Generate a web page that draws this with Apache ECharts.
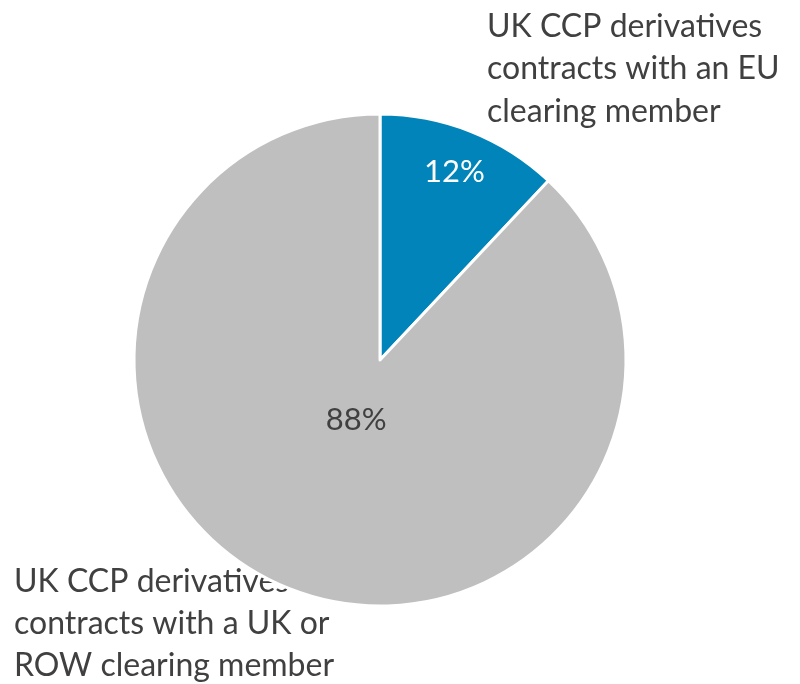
<!DOCTYPE html>
<html>
<head>
<meta charset="utf-8">
<style>
  html, body { margin: 0; padding: 0; background: #ffffff; }
  #chart { width: 800px; height: 684px; }
</style>
<script src="https://cdn.jsdelivr.net/npm/echarts@6/dist/echarts.min.js"></script>
</head>
<body>
<div id="chart"></div>
<script>
// Share of UK CCP derivatives contracts by clearing member location
const categories = [
  'UK CCP derivatives\ncontracts with an EU\nclearing member',
  'UK CCP derivatives\ncontracts with a UK or\nROW clearing member'
];
const shares = [12, 88];
const colors = ['#0084BA', '#BFBFBF'];
const valueLabelColors = ['#FFFFFF', '#404040'];

const FONT = 'Lato, "Open Sans", sans-serif';
const FONT_SIZE = 32;
const TEXT = '#404040';
const CENTER = [380, 360];
const R = 246;

const chart = echarts.init(document.getElementById('chart'), null, { renderer: 'canvas' });

const sliceData = categories.map((name, i) => ({
  name: name,
  value: shares[i],
  itemStyle: { color: colors[i] }
}));

// Transparent ring used only to place one slice's value label at a chosen radius
function labelRing(radius, showIndex) {
  return {
    type: 'pie',
    center: CENTER,
    radius: radius,
    startAngle: 90,
    clockwise: true,
    silent: true,
    animation: false,
    itemStyle: { color: 'rgba(0,0,0,0)', borderWidth: 0 },
    labelLine: { show: false },
    data: categories.map((name, i) => ({
      name: name,
      value: shares[i],
      label: {
        show: i === showIndex,
        position: 'inside',
        formatter: '{c}%',
        color: valueLabelColors[i],
        fontFamily: FONT,
        fontSize: 31
      }
    }))
  };
}

chart.setOption({
  backgroundColor: '#ffffff',
  animation: false,
  series: [
    {
      type: 'pie',
      center: CENTER,
      radius: [0, R],
      startAngle: 90,
      clockwise: true,
      silent: true,
      animation: false,
      itemStyle: { borderColor: '#ffffff', borderWidth: 3 },
      label: { show: false },
      labelLine: { show: false },
      data: sliceData
    },
    labelRing([0.62 * R, R], 0),
    labelRing([0, 0.5 * R], 1)
  ],
  graphic: [
    {
      type: 'text',
      left: 487,
      top: 5,
      style: {
        text: categories[0],
        fill: TEXT,
        font: FONT_SIZE + 'px ' + FONT,
        lineHeight: 42.5
      }
    },
    {
      type: 'text',
      left: 14,
      top: 561,
      style: {
        text: categories[1],
        fill: TEXT,
        font: FONT_SIZE + 'px ' + FONT,
        lineHeight: 42
      }
    }
  ]
});
</script>
</body>
</html>
